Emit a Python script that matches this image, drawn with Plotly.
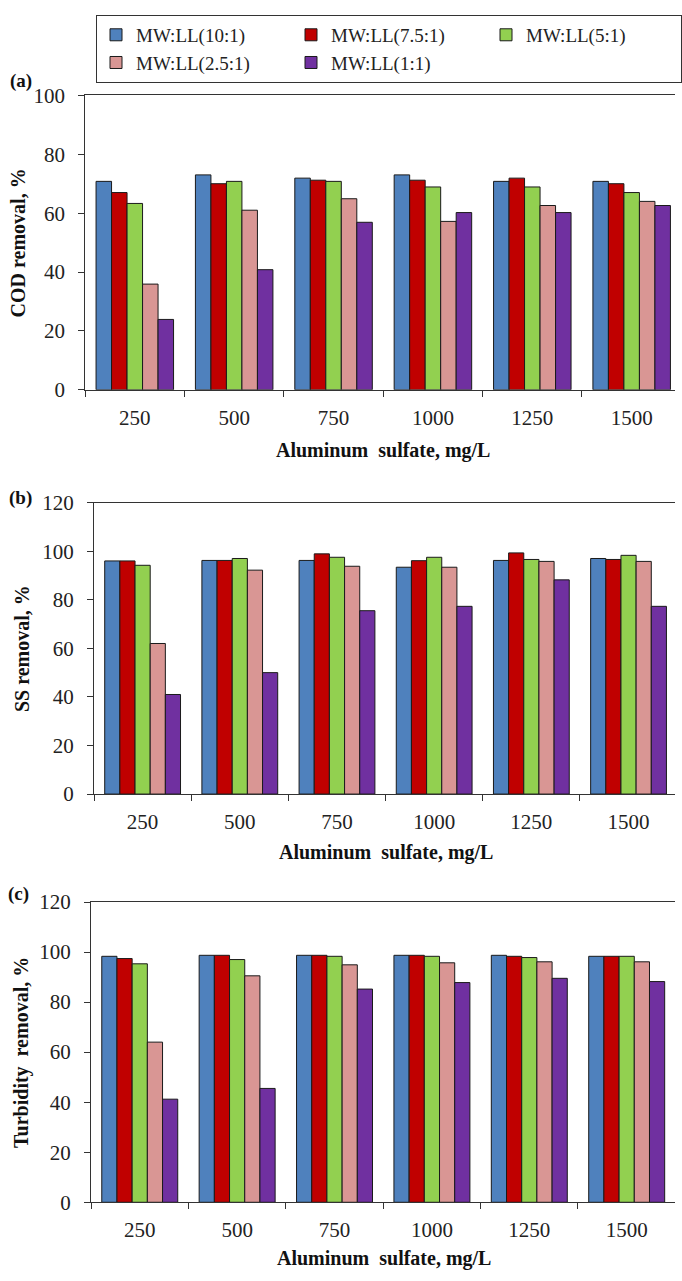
import plotly.graph_objects as go

W, H = 682, 1281

doses = ["250", "500", "750", "1000", "1250", "1500"]
series_names = ["MW:LL(10:1)", "MW:LL(7.5:1)", "MW:LL(5:1)", "MW:LL(2.5:1)", "MW:LL(1:1)"]
colors = ["#4F81BD", "#C00000", "#92D050", "#D99694", "#7030A0"]

# (a) COD removal, %
cod_10 = [70.8, 73.0, 71.9, 73.0, 70.8, 70.8]
cod_75 = [67.0, 70.0, 71.2, 71.2, 71.9, 70.0]
cod_5 = [63.3, 70.8, 70.8, 68.9, 68.9, 67.0]
cod_25 = [35.9, 61.0, 64.9, 57.2, 62.6, 64.0]
cod_1 = [23.9, 40.8, 56.9, 60.2, 60.2, 62.6]

# (b) SS removal, %
ss_10 = [96.0, 96.2, 96.2, 93.4, 96.2, 97.0]
ss_75 = [96.0, 96.2, 98.9, 96.1, 99.3, 96.6]
ss_5 = [94.2, 97.0, 97.5, 97.5, 96.6, 98.3]
ss_25 = [62.0, 92.2, 93.8, 93.4, 95.8, 95.8]
ss_1 = [41.0, 50.0, 75.5, 77.3, 88.2, 77.3]

# (c) Turbidity removal, %
tu_10 = [98.3, 98.7, 98.7, 98.7, 98.7, 98.3]
tu_75 = [97.4, 98.7, 98.7, 98.7, 98.3, 98.3]
tu_5 = [95.3, 97.0, 98.3, 98.3, 97.8, 98.3]
tu_25 = [64.0, 90.5, 94.9, 95.7, 96.1, 96.1]
tu_1 = [41.2, 45.5, 85.2, 87.8, 89.5, 88.2]

panels = [
    ([cod_10, cod_75, cod_5, cod_25, cod_1], "COD removal, %", [0, 100]),
    ([ss_10, ss_75, ss_5, ss_25, ss_1], "SS removal, %", [0, 120]),
    ([tu_10, tu_75, tu_5, tu_25, tu_1], "Turbidity  removal, %", [0, 120]),
]

FONT = "Liberation Serif"
AX = "#333333"

def px_x(p):
    return p / W

def px_y(p):
    return 1 - p / H

# plot-area pixel boxes: (left, top, bottom, xrange_end)
boxes = [
    (86, 85, 385, 5.436),
    (95, 500, 797, 5.478),
    (92, 907, 1213, 5.496),
]

fig = go.Figure()
layout = dict(
    width=W, height=H,
    margin=dict(l=0, r=0, t=0, b=0),
    paper_bgcolor="white", plot_bgcolor="white",
    barmode="group", bargap=0.22, bargroupgap=0,
    font=dict(family=FONT, size=21, color="#222222"),
    showlegend=True,
    legend=dict(
        orientation="h", x=px_x(97), y=px_y(3), xanchor="left", yanchor="top",
        bordercolor="#333333", borderwidth=1,
        font=dict(family=FONT, size=19, color="#222222"),
        entrywidth=150, entrywidthmode="pixels",
        itemwidth=30, tracegroupgap=0,
    ),
    annotations=[],
)

for i, (vals, ytitle, yr) in enumerate(panels):
    sfx = "" if i == 0 else str(i + 1)
    left, top, bottom, xend = boxes[i]
    for j, v in enumerate(vals):
        fig.add_trace(go.Bar(
            x=doses, y=v, name=series_names[j],
            marker=dict(color=colors[j], line=dict(color="#1a1a1a", width=1)),
            xaxis="x" + sfx, yaxis="y" + sfx,
            showlegend=(i == 0), legendgroup=series_names[j],
        ))
    layout["xaxis" + sfx] = dict(
        domain=[px_x(left), 1], anchor="y" + sfx, type="category",
        range=[-0.5, xend], tickson="boundaries", ticks="outside", ticklen=6,
        tickcolor=AX, showline=True, linecolor=AX, linewidth=1, mirror=True,
        showgrid=False, zeroline=False, ticklabelstandoff=9,
        tickfont=dict(family=FONT, size=21, color="#222222"),
    )
    layout["yaxis" + sfx] = dict(
        domain=[px_y(bottom), px_y(top)], anchor="x" + sfx, range=yr,
        dtick=20, ticks="outside", ticklen=6, tickcolor=AX,
        showline=True, linecolor=AX, linewidth=1, showgrid=False, zeroline=False,
        ticklabelstandoff=9,
        tickfont=dict(family=FONT, size=21, color="#222222"),
    )

# axis titles and panel labels as annotations
ytitle_x = [18, 23, 21]
xtitle_y = [447, 857, 1270]
xtitle_x = [387, 390, 388]
plabels = [("(a)", 21, 70), ("(b)", 21, 495), ("(c)", 19, 899)]
for i, (vals, ytitle, yr) in enumerate(panels):
    left, top, bottom, xend = boxes[i]
    layout["annotations"].append(dict(
        text="<b>" + ytitle + "</b>", textangle=-90, showarrow=False,
        x=px_x(ytitle_x[i]), y=px_y((top + bottom) / 2), xref="paper", yref="paper",
        xanchor="center", yanchor="middle",
        font=dict(family=FONT, size=20, color="#111111"),
    ))
    layout["annotations"].append(dict(
        text="<b>Aluminum  sulfate, mg/L</b>", showarrow=False,
        x=px_x(xtitle_x[i]), y=px_y(xtitle_y[i]), xref="paper", yref="paper",
        xanchor="center", yanchor="middle",
        font=dict(family=FONT, size=20, color="#111111"),
    ))
    lab, lx, ly = plabels[i]
    layout["annotations"].append(dict(
        text="<b>" + lab + "</b>", showarrow=False,
        x=px_x(lx), y=px_y(ly), xref="paper", yref="paper",
        xanchor="center", yanchor="middle",
        font=dict(family=FONT, size=19, color="#111111"),
    ))

fig.update_layout(**layout)
fig.write_html("out.html")
